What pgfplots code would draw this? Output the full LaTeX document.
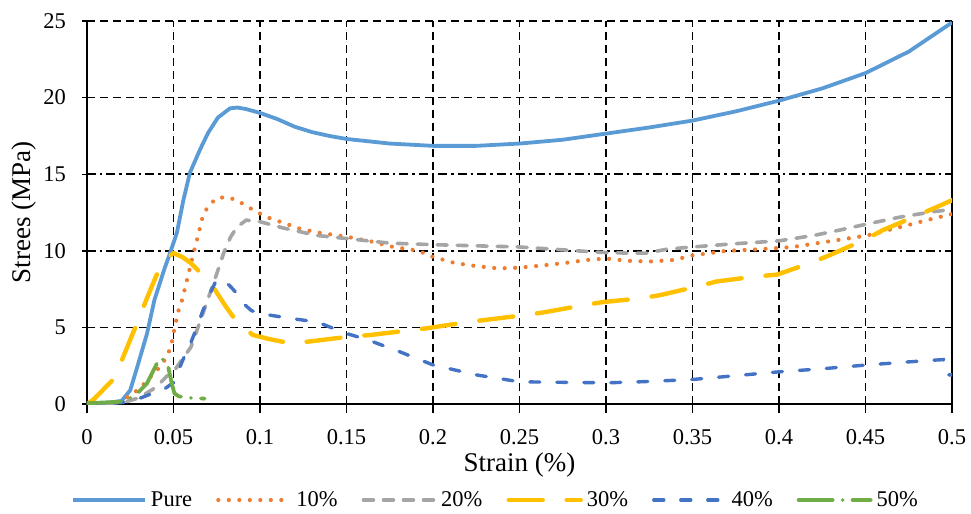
\documentclass[border=0pt]{standalone}
\usepackage{fontspec}
\setmainfont{Liberation Serif}
\usepackage{pgfplots}
\pgfplotsset{compat=1.18}
\definecolor{cPure}{HTML}{5B9BD5}
\definecolor{cTen}{HTML}{ED7D31}
\definecolor{cTwenty}{HTML}{A5A5A5}
\definecolor{cThirty}{HTML}{FFC000}
\definecolor{cForty}{HTML}{4472C4}
\definecolor{cFifty}{HTML}{70AD47}
\begin{document}
\begin{tikzpicture}
\begin{axis}[name=ax, scale only axis, width=865bp, height=383bp,
  xmin=0, xmax=0.5, ymin=0, ymax=25,
  axis x line*=bottom, axis y line*=box,
  x axis line style={-, line width=1.6bp}, y axis line style={-, line width=1.6bp},
  xtick={0,0.05,0.1,0.15,0.2,0.25,0.3,0.35,0.4,0.45,0.5},
  xticklabels={0,0.05,0.1,0.15,0.2,0.25,0.3,0.35,0.4,0.45,0.5},
  ytick={0,5,20,25}, yticklabels={0,5,20,25},
  extra y ticks={10,15}, extra y tick labels={10,15},
  extra y tick style={major grid style={black, line width=1.6bp, dash pattern=on 9bp off 4bp on 2.5bp off 4bp}},
  xmajorgrids, ymajorgrids, major grid style={black, line width=1.6bp, dash pattern=on 8bp off 5bp},
  xtick pos=bottom, ytick pos=left,
  xtick align=outside, ytick align=center,
  major tick length=9bp,
  every tick/.style={black, line width=1.4bp},
  tick label style={font=\fontsize{22.5bp}{27bp}\selectfont},
  xticklabel style={anchor=north, yshift=-13bp},
  yticklabel style={anchor=east, xshift=-13bp},
  xlabel={Strain (\%)}, ylabel={Strees (MPa)},
  every axis x label/.style={at={(axis description cs:0.5,-0.1593)}, anchor=center, font=\fontsize{27bp}{32bp}\selectfont},
  every axis y label/.style={at={(axis description cs:-0.0728,0.5)}, anchor=center, rotate=90, font=\fontsize{27bp}{32bp}\selectfont},
  legend columns=6,
  legend image code/.code={\draw[#1] (0bp,0bp) -- (72bp,0bp);},
  legend style={draw=none, fill=none, inner sep=0pt, at={(axis description cs:-0.0185,-0.2507)}, anchor=west,
    font=\fontsize{22.5bp}{27bp}\selectfont,
    /tikz/every odd column/.append style={column sep=2bp},
    /tikz/every even column/.append style={column sep=22bp}},
  no markers,
]
\addplot[cPure, line width=3.8bp, line join=round] coordinates {
(0,0) (0.01,0.05) (0.02,0.2) (0.025,0.9) (0.029,2.4) (0.0347,4.6) (0.039,6.8) (0.045,8.9) (0.048,9.85) (0.052,11.2) (0.0557,13.3) (0.0595,15.1) (0.0653,16.6) (0.070,17.7) (0.0757,18.7) (0.0827,19.3) (0.087,19.35) (0.092,19.25) (0.1,19.0) (0.11,18.6) (0.12,18.1) (0.13,17.75) (0.14,17.5) (0.15,17.3) (0.175,17.0) (0.2,16.85) (0.225,16.85) (0.25,17.0) (0.275,17.25) (0.3,17.65) (0.325,18.05) (0.35,18.5) (0.375,19.1) (0.4,19.8) (0.425,20.6) (0.45,21.6) (0.475,23.0) (0.5,24.9)
};
\addlegendentry{Pure}
\addplot[cTen, line width=4.2bp, line cap=round, dash pattern=on 0bp off 10.5bp] coordinates {
(0,0) (0.01,0.02) (0.02,0.15) (0.025,0.6) (0.0306,1.0) (0.035,1.6) (0.039,2.0) (0.044,2.7) (0.047,3.3) (0.049,4.0) (0.05,4.6) (0.0526,6.0) (0.055,6.8) (0.0578,8.1) (0.061,9.6) (0.064,10.9) (0.067,12.3) (0.07,12.9) (0.075,13.45) (0.081,13.5) (0.0867,13.3) (0.0925,12.9) (0.098,12.55) (0.104,12.2) (0.1087,12.0) (0.1145,11.8) (0.121,11.5) (0.133,11.2) (0.145,11.0) (0.151,10.9) (0.1647,10.6) (0.177,10.25) (0.189,10.05) (0.195,9.85) (0.2,9.6) (0.2127,9.2) (0.225,9.0) (0.2377,8.85) (0.25,8.9) (0.2636,9.05) (0.276,9.2) (0.289,9.4) (0.3,9.5) (0.312,9.35) (0.325,9.3) (0.339,9.4) (0.35,9.7) (0.37,10.0) (0.389,10.1) (0.408,10.25) (0.428,10.6) (0.451,11.0) (0.47,11.55) (0.489,12.1) (0.5,12.4)
};
\addlegendentry{10\%}
\addplot[cTwenty, line width=3.6bp, line cap=round, dash pattern=on 10bp off 10bp] coordinates {
(0,0) (0.01,0.02) (0.021,0.1) (0.03,0.4) (0.04,1.1) (0.046,1.8) (0.05,2.1) (0.0537,2.7) (0.06,3.7) (0.0635,4.8) (0.067,5.9) (0.071,7.2) (0.075,8.5) (0.079,9.85) (0.083,10.9) (0.0867,11.55) (0.092,12.0) (0.1,11.9) (0.113,11.5) (0.133,11.0) (0.15,10.8) (0.175,10.5) (0.2,10.4) (0.25,10.25) (0.2965,9.9) (0.312,9.85) (0.3235,9.85) (0.335,10.1) (0.35,10.25) (0.373,10.45) (0.4,10.65) (0.42,11.0) (0.435,11.35) (0.451,11.75) (0.47,12.2) (0.489,12.55) (0.5,12.7)
};
\addlegendentry{20\%}
\addplot[cThirty, line width=4.4bp, line cap=round, dash pattern=on 34bp off 24bp] coordinates {
(0,0) (0.0035,0.26) (0.016,1.7) (0.021,3.1) (0.029,5.3) (0.035,7.0) (0.042,8.9) (0.046,9.5) (0.05,9.85) (0.055,9.6) (0.06,9.2) (0.067,8.4) (0.074,7.45) (0.08,6.4) (0.0867,5.35) (0.096,4.5) (0.105,4.25) (0.118,3.95) (0.13,4.1) (0.152,4.4) (0.1636,4.5) (0.1855,4.8) (0.197,4.95) (0.22,5.35) (0.231,5.5) (0.253,5.8) (0.265,6.0) (0.287,6.45) (0.298,6.65) (0.32,6.9) (0.331,7.1) (0.352,7.65) (0.364,8.0) (0.385,8.3) (0.399,8.45) (0.418,9.2) (0.429,9.7) (0.451,10.8) (0.46,11.35) (0.48,12.3) (0.5,13.3)
};
\addlegendentry{30\%}
\addplot[cForty, line width=3.4bp, line cap=round, dash pattern=on 10bp off 17bp] coordinates {
(0,0) (0.01,0.02) (0.021,0.1) (0.03,0.35) (0.038,0.7) (0.045,1.0) (0.05,1.4) (0.0555,2.9) (0.06,4.0) (0.0635,5.0) (0.067,6.1) (0.071,7.2) (0.074,7.9) (0.077,8.2) (0.08,8.0) (0.0835,7.6) (0.0867,7.2) (0.09,6.6) (0.095,6.1) (0.1,5.9) (0.117,5.6) (0.133,5.35) (0.15,4.6) (0.162,4.2) (0.181,3.4) (0.2,2.55) (0.225,1.9) (0.25,1.45) (0.287,1.4) (0.3,1.38) (0.32,1.45) (0.35,1.6) (0.375,1.85) (0.4,2.1) (0.425,2.3) (0.451,2.55) (0.475,2.75) (0.495,2.9) (0.497,1.9) (0.5,1.9)
};
\addlegendentry{40\%}
\addplot[cFifty, line width=3.8bp, line cap=round, dash pattern=on 34bp off 10bp on 0bp off 10bp] coordinates {
(0,0.05) (0.01,0.1) (0.019,0.15) (0.025,0.4) (0.03,0.8) (0.0347,1.35) (0.038,2.1) (0.042,3.0) (0.044,2.9) (0.047,2.4) (0.049,1.35) (0.0505,0.7) (0.053,0.5) (0.06,0.4) (0.068,0.35)
};
\addlegendentry{50\%}
\end{axis}
\path ([shift={(-87bp,-110bp)}]ax.south west) rectangle ([shift={(19bp,21bp)}]ax.north east);
\end{tikzpicture}
\end{document}
